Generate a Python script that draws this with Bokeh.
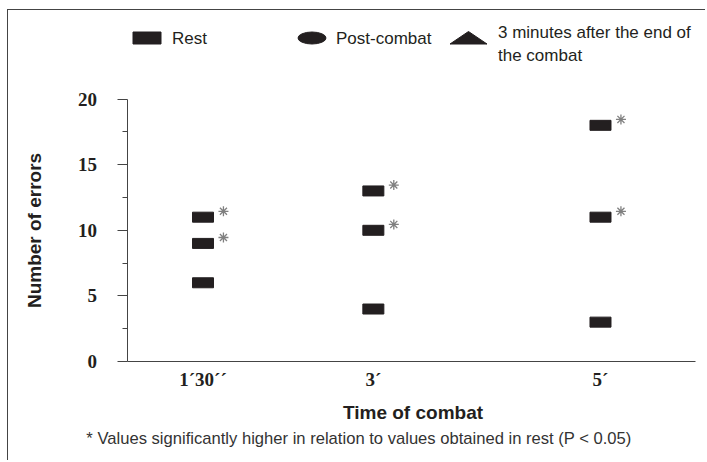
from bokeh.plotting import figure
from bokeh.models import Range1d, FixedTicker, ColumnDataSource
from bokeh.core.properties import value
from bokeh.embed import file_html
from bokeh.resources import INLINE

# ---- data ----
times = [1.5, 3, 5]                      # minutes of combat
tick_labels = ["1´30´´", "3´", "5´"]
rest = [6, 4, 3]
post_combat = [9, 10, 11]
after_3min = [11, 13, 18]
y_ticks = [0, 5, 10, 15, 20]
y_minor = [2.5, 7.5, 12.5, 17.5]
legend_labels = ["Rest", "Post-combat", "3 minutes after the end of", "the combat"]
x_title = "Time of combat"
y_title = "Number of errors"
footnote = "* Values significantly higher in relation to values obtained in rest (P < 0.05)"

INK = "#231f20"

# ---- layout ----
W, H = 698, 451
BOTTOM_PAD = 11
CANVAS_X0, CANVAS_Y0 = 8.5, 10.5          # page offset of canvas (css margin+border)
PX_PER_MIN = 113.57
PX_PER_ERR = 13.12
AXIS_X_PAGE = 127                          # page x of the y axis line
AXIS_Y_PAGE = 361.5                        # page y of the value 0
FIRST_PAGE = 203                           # page x of the first time point

def dx(page_x):
    return times[0] + (page_x - FIRST_PAGE) / PX_PER_MIN

def dy(page_y):
    return (AXIS_Y_PAGE - page_y) / PX_PER_ERR

X0, X1 = dx(CANVAS_X0), dx(CANVAS_X0 + W)
Y0, Y1 = dy(CANVAS_Y0 + H - BOTTOM_PAD), dy(CANVAS_Y0)
Y_AXIS_AT = dx(AXIS_X_PAGE)
X_AXIS_END = 5.84

p = figure(width=W, height=H, output_backend="svg", toolbar_location=None,
           x_range=Range1d(X0, X1), y_range=Range1d(Y0, Y1),
           min_border_left=0, min_border_right=0, min_border_top=0, min_border_bottom=BOTTOM_PAD)
p.styles = {"margin-left": "7px", "margin-top": "9px",
            "border-left": "1.5px solid #444444", "border-top": "1.5px solid #444444"}
p.outline_line_color = None
p.grid.visible = False
p.background_fill_color = "white"
p.border_fill_color = "white"

# axes
xa = p.xaxis[0]
xa.fixed_location = 0
xa.bounds = (Y_AXIS_AT, X_AXIS_END)
xa.ticker = FixedTicker(ticks=times, minor_ticks=[])
xa.major_label_overrides = {t: l for t, l in zip(times, tick_labels)}
xa.major_tick_out = 0
xa.major_tick_in = 0
xa.minor_tick_out = 0
xa.minor_tick_in = 0
xa.axis_line_color = "#444444"
xa.major_label_text_font = "Liberation Serif"
xa.major_label_text_font_style = "bold"
xa.major_label_text_font_size = "19px"
xa.major_label_text_color = INK
xa.major_label_standoff = 7

ya = p.yaxis[0]
ya.fixed_location = Y_AXIS_AT
ya.bounds = (0, 20)
ya.ticker = FixedTicker(ticks=y_ticks, minor_ticks=y_minor)
ya.major_tick_out = 10
ya.major_tick_in = 0
ya.minor_tick_out = 5
ya.minor_tick_in = 0
ya.axis_line_color = "#444444"
ya.major_tick_line_color = "#444444"
ya.minor_tick_line_color = "#444444"
ya.major_label_text_font = "Liberation Serif"
ya.major_label_text_font_style = "bold"
ya.major_label_text_font_size = "19px"
ya.major_label_text_color = INK
ya.major_label_standoff = 20
ya.axis_label = y_title
ya.axis_label_text_font = "Liberation Sans"
ya.axis_label_text_font_style = "bold"
ya.axis_label_text_font_size = "19px"
ya.axis_label_text_color = INK
ya.axis_label_standoff = 31

# markers (all drawn as small black rectangles)
for vals in (rest, post_combat, after_3min):
    src = ColumnDataSource(dict(x=times, y=vals))
    p.rect("x", "y", width=21, height=10, width_units="screen", height_units="screen",
           fill_color=INK, line_color=INK, source=src)

# significance stars next to post-combat and 3-min-after values
for vals in (post_combat, after_3min):
    src = ColumnDataSource(dict(x=[t + 0.18 for t in times], y=[v + 0.45 for v in vals]))
    p.scatter("x", "y", marker="asterisk", size=10, line_color="#808080", line_width=1.3, source=src)

# x axis title
p.text(x=[dx(413)], y=[dy(412)], text=[x_title], text_font=value("Liberation Sans"),
       text_font_style="bold", text_font_size="19px", text_color=INK,
       text_baseline="middle", text_align="center")

# legend
p.rect(x=[dx(147)], y=[dy(38)], width=28, height=12, width_units="screen", height_units="screen",
       fill_color=INK, line_color=INK)
p.ellipse(x=[dx(312)], y=[dy(38)], width=28, height=12, width_units="screen", height_units="screen",
          fill_color=INK, line_color=INK)
p.patch(x=[dx(450), dx(468.5), dx(487)], y=[dy(44), dy(31.5), dy(44)], fill_color=INK, line_color=INK)
p.text(x=[dx(172), dx(336), dx(498), dx(498)], y=[dy(38), dy(38), dy(32), dy(55)], text=legend_labels,
       text_font=value("Liberation Sans"), text_font_size="17px", text_color=INK,
       text_baseline="middle", text_align="left")

# footnote
p.text(x=[dx(359)], y=[dy(438.5)], text=[footnote], text_font=value("Liberation Sans"),
       text_font_size="16.6px", text_color="#333333", text_baseline="middle", text_align="center")

open("out.html", "w").write(file_html(p, INLINE))
